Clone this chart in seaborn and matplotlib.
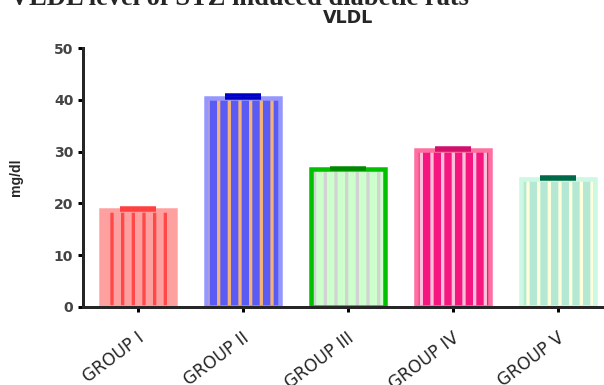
import numpy as np
import matplotlib
matplotlib.use('Agg')
import matplotlib.pyplot as plt
import matplotlib.transforms as mtransforms
from matplotlib.patches import Rectangle
import seaborn as sns

# ── data ──────────────────────────────────────────────────────────────────────
groups = ['GROUP I', 'GROUP II', 'GROUP III', 'GROUP IV', 'GROUP V']
vldl = [18.7, 40.4, 26.6, 30.4, 24.8]
sem = [0.39, 0.48, 0.25, 0.33, 0.23]
y_ticks = [0, 10, 20, 30, 40, 50]

face_colors = ['#FFA0A0', '#5A5AF5', '#CCFFCC', '#F5167F', '#B4E8D5']
stripe_colors = ['#FF4848', '#F2B27A', '#D3D3D3', '#FFC0DC', '#FFFFDC']
border_colors = ['#FFA0A0', '#9696FF', '#00C000', '#FF70A0', '#CCF8E4']
cap_colors = ['#FF4040', '#0000C8', '#008800', '#D0106A', '#006A48']

DPI = 64
PX = 72 / DPI  # points per pixel

sns.set_style('ticks')
plt.rcParams['hatch.linewidth'] = 3.3 * PX

fig = plt.figure(figsize=(604 / DPI, 385 / DPI), dpi=DPI)
ax = fig.add_axes([83.3 / 604, 78.3 / 385, (604 - 83.3) / 604, (306.7 - 48.3) / 385])

sns.barplot(x=groups, y=vldl, hue=groups, palette=face_colors, legend=False,
            width=0.70, errorbar=None, linewidth=0, saturation=1, ax=ax)

# striped fill + separate border colour for each bar
bars = list(ax.patches)
for p, sc, bc in zip(bars, stripe_colors, border_colors):
    p.set_hatch('|')
    p.set_edgecolor(sc)
    p.set_linewidth(0)
    ax.add_patch(Rectangle(p.get_xy(), p.get_width(), p.get_height(),
                           fill=False, edgecolor=bc, linewidth=4.5 * PX, zorder=1.5))

xpos = np.arange(len(groups))
for i, c in enumerate(cap_colors):
    ax.errorbar(xpos[i], vldl[i], yerr=[[0], [sem[i]]], fmt='none', ecolor=c,
                elinewidth=3 * PX, capsize=18 * PX, capthick=3.5 * PX, zorder=3)

ax.set_xlim(-0.521, 4.438)
ax.set_ylim(0, 50)
ax.set_yticks(y_ticks)
sns.despine(ax=ax)
for s in ['left', 'bottom']:
    ax.spines[s].set_linewidth(3 * PX)
ax.tick_params(axis='both', width=3 * PX, length=5 * PX, color='black')
ax.tick_params(axis='y', pad=5 * PX, labelsize=14 * PX, labelcolor='#444444')
ax.tick_params(axis='x', pad=24 * PX, labelsize=17 * PX)
for t in ax.get_yticklabels():
    t.set_fontweight('bold')

offset = mtransforms.ScaledTranslation(4 / DPI, 0, fig.dpi_scale_trans)
ax.set_xticks(xpos)
ax.set_xticklabels(groups, rotation=37, ha='right', va='center', rotation_mode='anchor')
for t in ax.get_xticklabels():
    t.set_transform(t.get_transform() + offset)
ax.set_xlabel('')
ax.set_ylabel('')

fig.text(16 / 604, 1 - 177 / 385, 'mg/dl', rotation=90, ha='center', va='center',
         fontsize=14 * PX, fontweight='bold', family='Liberation Sans')
fig.text(348 / 604, 1 - 23 / 385, 'VLDL', ha='center', va='baseline',
         fontsize=17.5 * PX, fontweight='bold')
fig.text(10 / 604, 1 - 5 / 385, 'VLDL level of STZ induced diabetic rats',
         ha='left', va='baseline', fontsize=26.5 * PX, fontweight='bold',
         family='Liberation Serif')

fig.savefig('out.png', dpi=DPI)
